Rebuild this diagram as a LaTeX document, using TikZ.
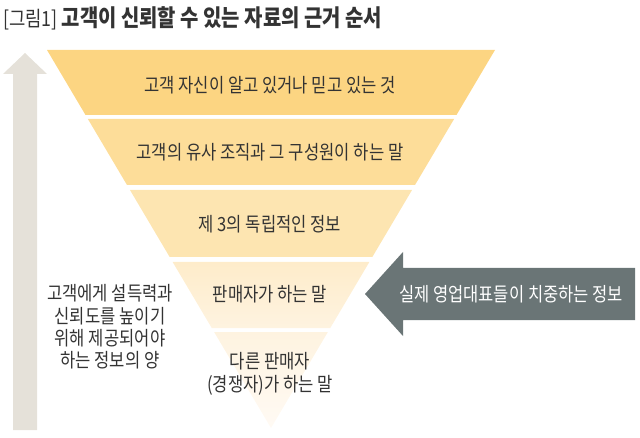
\documentclass[tikz,border=0pt]{standalone}
\usepackage{fontspec}
\setmainfont{Noto Sans CJK KR}[FakeStretch=0.85]
\definecolor{ink}{RGB}{51,51,51}
\definecolor{upgray}{RGB}{229,225,217}
\definecolor{pointgray}{RGB}{106,117,118}
\definecolor{bandA}{RGB}{252,213,130}
\definecolor{bandB}{RGB}{253,221,153}
\definecolor{bandC}{RGB}{253,229,177}
\definecolor{bandD}{RGB}{254,236,202}
\definecolor{bandE}{RGB}{254,243,224}
\definecolor{bandEnd}{RGB}{255,250,244}
\begin{document}
\begin{tikzpicture}[x=1bp, y=-1bp,
    txt/.style={font=\fontsize{19.6}{22.5}\selectfont, text=ink, align=center, inner sep=0pt}]
    \useasboundingbox (0,0) rectangle (640,438);
    % title
    \node[anchor=base west, inner sep=0pt, text=ink, font=\fontsize{21}{24}\selectfont] (title) at (3,27) {[그림1] {\fontsize{23.5}{26}\selectfont\bfseries 고객이 신뢰할 수 있는 자료의 근거 순서}};
    % left arrow
    \fill[upgray] (13,430) -- (13,74) -- (3,74) -- (25,53) -- (47,74) -- (37,74) -- (37,430) -- cycle;
    % pyramid bands
    \foreach \t/\b/\ca/\cb in {50/115/bandA/bandA, 119/185/bandB/bandB, 190/257/bandC/bandC, 262/328/bandD/bandE, 332/428/bandE/bandEnd} {
        \pgfmathsetmacro\lt{47+(\t-50)*0.5926}
        \pgfmathsetmacro\rt{495-(\t-50)*0.5926}
        \pgfmathsetmacro\lb{47+(\b-50)*0.5926}
        \pgfmathsetmacro\rb{495-(\b-50)*0.5926}
        \shade[top color=\ca, bottom color=\cb] (\lt,\t) -- (\rt,\t) -- (\rb,\b) -- (\lb,\b) -- cycle;
    }
    \node[txt] (b1) at (270,85) {고객 자신이 알고 있거나 믿고 있는 것};
    \node[txt] (b2) at (270,152) {고객의 유사 조직과 그 구성원이 하는 말};
    \node[txt] (b3) at (270,224) {제 3의 독립적인 정보};
    \node[txt] (b4) at (270,294) {판매자가 하는 말};
    \node[txt] (b5) at (270,374) {다른 판매자\\(경쟁자)가 하는 말};
    \node[txt] (amount) at (110,327) {고객에게 설득력과\\신뢰도를 높이기\\위해 제공되어야\\하는 정보의 양};
    % right arrow
    \fill[pointgray] (365,294) -- (403,252) -- (403,268) -- (635,268) -- (635,320) -- (403,320) -- (403,336) -- cycle;
    \node[txt, text=white, font=\fontsize{19.5}{22}\selectfont] (focus) at (511,294) {실제 영업대표들이 치중하는 정보};
\end{tikzpicture}
\end{document}
